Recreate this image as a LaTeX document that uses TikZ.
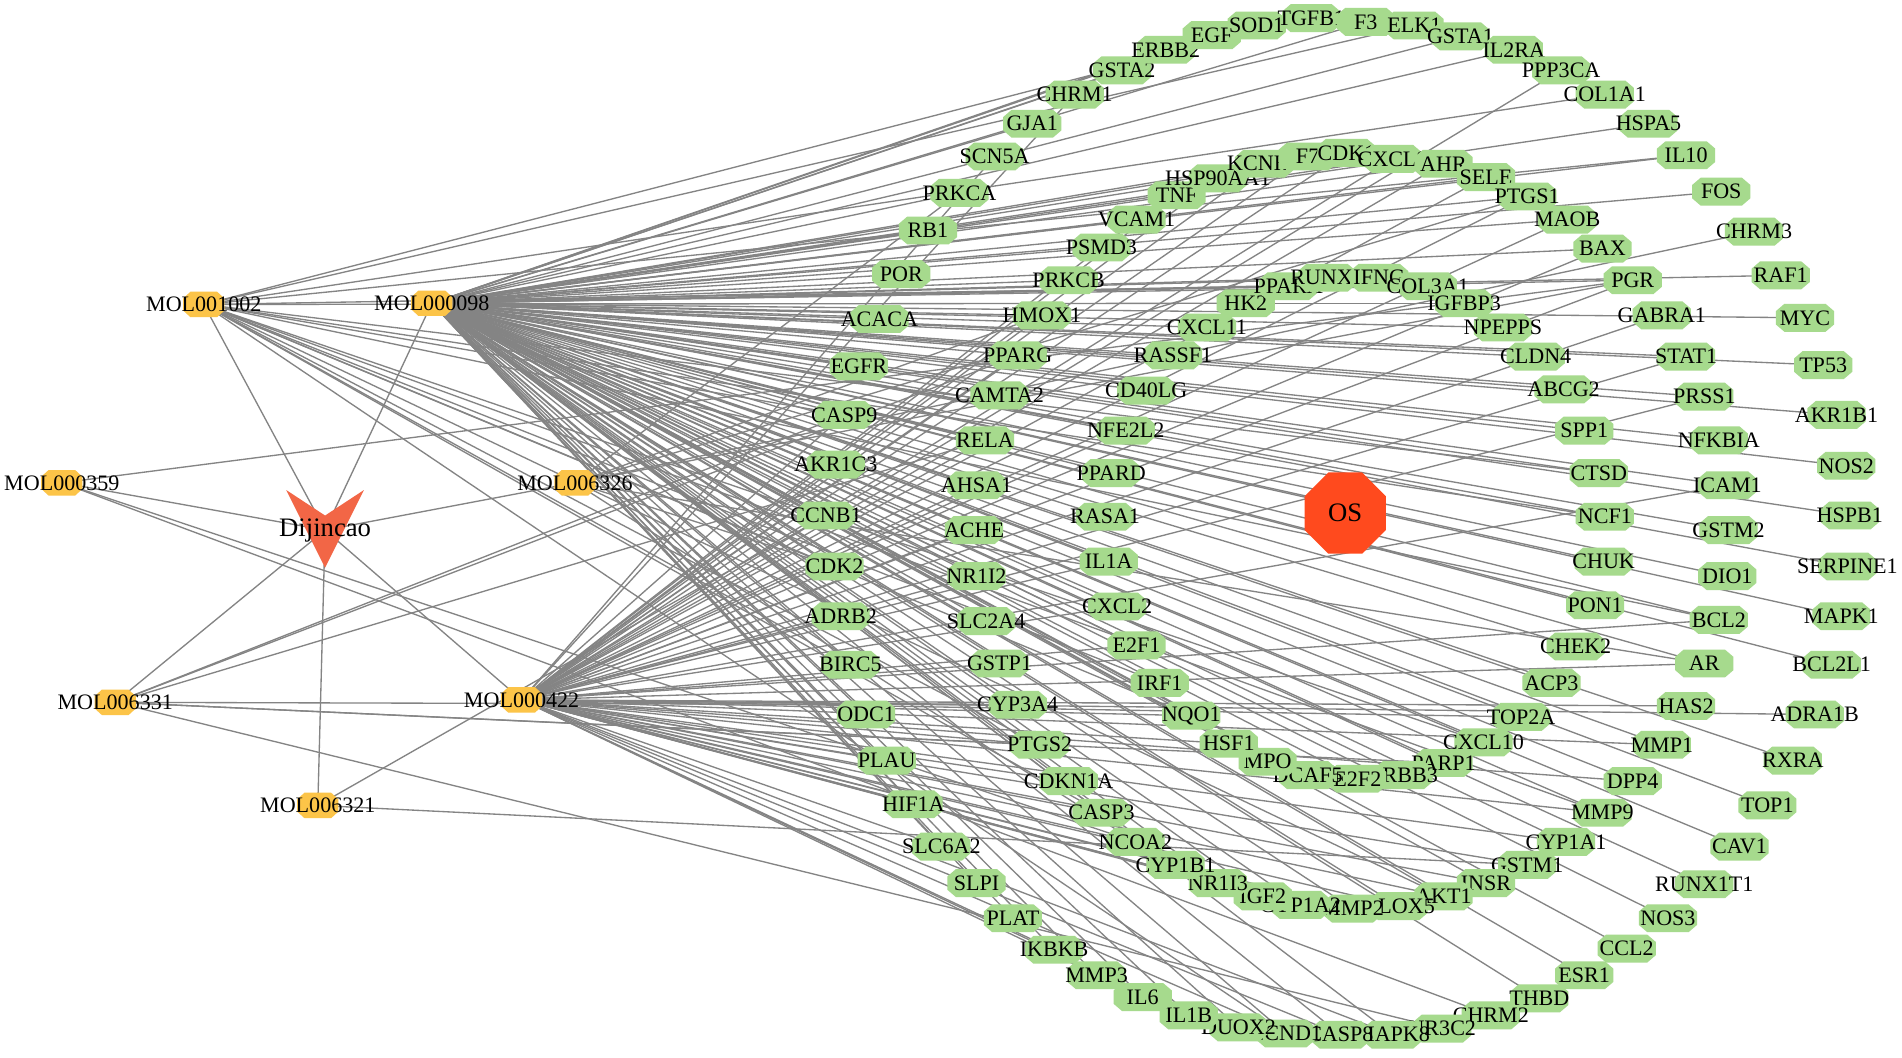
\documentclass[tikz,border=0pt]{standalone}
\usepackage{fontspec}
\setmainfont{Liberation Serif}
\pgfdeclarelayer{bg}
\pgfsetlayers{bg,main}
\definecolor{gcol}{RGB}{166,218,141}
\definecolor{ycol}{RGB}{252,196,72}
\definecolor{dcol}{RGB}{242,102,70}
\definecolor{ocol}{RGB}{255,74,30}
\definecolor{ecol}{RGB}{132,132,132}
\tikzset{
  lbl/.style={inner sep=0pt, font=\fontsize{18.2}{21}\selectfont, text=black},
  biglbl/.style={inner sep=0pt, font=\fontsize{22}{25}\selectfont, text=black},
  edge/.style={draw=ecol, line width=1.1pt},
}
% green target node: name, x, y
\newcommand\gnd[3]{%
  \coordinate (#1) at (#2,#3);
  \fill[gcol,shift={(#2,#3)}] (-24,-5.5) -- (-24,5.5) -- (-17,11.5) -- (17,11.5) -- (24,5.5) -- (24,-5.5) -- (17,-11.5) -- (-17,-11.5) -- cycle;
  \node[lbl] (#1-l) at (#1) {#1};}
% yellow compound node
\newcommand\ynd[3]{%
  \coordinate (#1) at (#2,#3);
  \fill[ycol,shift={(#2,#3)}] (-17,-5) -- (-17,5) -- (-11,10.5) -- (11,10.5) -- (17,5) -- (17,-5) -- (11,-10.5) -- (-11,-10.5) -- cycle;
  \node[lbl] (#1-l) at (#1) {#1};}
\begin{document}
\begin{tikzpicture}[x=1pt,y=-1pt]
\useasboundingbox (0,0) rectangle (1568,872);
\begin{pgfonlayer}{bg}
\fill[white] (0,0) rectangle (1568,872);
\end{pgfonlayer}

% compounds
\ynd{MOL001002}{168}{251}
\ynd{MOL000098}{356}{250}
\ynd{MOL000359}{51}{398}
\ynd{MOL006326}{474}{398}
\ynd{MOL006331}{95}{579}
\ynd{MOL000422}{430}{577}
\ynd{MOL006321}{262}{664}

% herb
\coordinate (Dij) at (268,437);
\fill[dcol] (236,404) -- (268,425) -- (300,404) -- (268,468) -- cycle;
\node[biglbl] (Dij-l) at (268,437) {Dijincao};

% disease
\coordinate (OS) at (1109,423);
\fill[ocol,shift={(1109,423)}] (-33.5,-13.9) -- (-33.5,13.9) -- (-13.9,33.5) -- (13.9,33.5) -- (33.5,13.9) -- (33.5,-13.9) -- (13.9,-33.5) -- (-13.9,-33.5) -- cycle;
\node[biglbl] (OS-l) at (OS) {OS};

% outer ring
\foreach \n/\x/\y in {CCNB1/681/425, AKR1C3/689/383, CASP9/696/342, EGFR/708/302, ACACA/725/263, POR/743/226, RB1/765/190, PRKCA/791/159, SCN5A/820/129, GJA1/851/102, CHRM1/886/78, GSTA2/925/58, ERBB2/961/41, EGF/999/29, SOD1/1036/21, TGFB1/1081/15, F3/1126/18, ELK1/1166/21, GSTA1/1204/30, IL2RA/1248/41, PPP3CA/1287/58, COL1A1/1323/78, HSPA5/1359/102, IL10/1390/128, FOS/1419/158, CHRM3/1446/191, RAF1/1468/227, MYC/1488/262, TP53/1503/301, AKR1B1/1514/342, NOS2/1522/384, HSPB1/1525/425, SERPINE1/1523/467, MAPK1/1518/508, BCL2L1/1510/548, ADRA1B/1496/589, RXRA/1478/627, TOP1/1457/664, CAV1/1434/698, RUNX1T1/1405/729, NOS3/1375/757, CCL2/1341/782, ESR1/1306/804, THBD/1269/823, CHRM2/1229/837, NR3C2/1189/848, MAPK8/1148/853, CASP8/1105/853, CCND1/1060/852, DUOX2/1021/847, IL1B/980/837, IL6/942/822, MMP3/904/804, IKBKB/869/783, PLAT/835/757, SLPI/805/728, SLC6A2/776/698, HIF1A/753/663, PLAU/731/627, ODC1/714/589, BIRC5/701/548, ADRB2/693/508, CDK2/688/467}
  {\gnd{\n}{\x}{\y}}

% middle ring
\foreach \n/\x/\y in {ACHE/803/437, AHSA1/805/400, RELA/812/363, CAMTA2/824/326, PPARG/839/293, HMOX1/859/260, PRKCB/881/231, PSMD3/908/204, VCAM1/937/181, TNF/970/161, HSP90AA1/1004/147, KCNH2/1042/135, F7/1078/129, CDK1/1110/126, CXCL8/1148/131, AHR/1190/135, SELE/1225/146, PTGS1/1259/162, MAOB/1292/181, BAX/1321/205, PGR/1346/231, GABRA1/1370/260, STAT1/1390/294, PRSS1/1405/327, NFKBIA/1417/363, ICAM1/1424/400, GSTM2/1425/437, DIO1/1424/475, BCL2/1417/511, AR/1405/547, HAS2/1390/582, MMP1/1370/614, DPP4/1346/644, MMP9/1321/670, CYP1A1/1291/694, GSTM1/1259/713, INSR/1225/728, AKT1/1190/739, ALOX5/1153/747, MMP2/1115/749, CYP1A2/1072/746, IGF2/1041/739, NR1I3/1004/728, CYP1B1/969/713, NCOA2/936/694, CASP3/908/670, CDKN1A/881/644, PTGS2/857/614, CYP3A4/839/581, GSTP1/824/547, SLC2A4/813/512, NR1I2/805/475}
  {\gnd{\n}{\x}{\y}}

% inner ring
\foreach \n/\x/\y in {RASA1/911/426, PPARD/916/390, NFE2L2/928/355, CD40LG/945/322, RASSF1/967/293, CXCL11/995/270, HK2/1027/250, PPARA/1062/236, RUNX2/1094/229, IFNG/1137/229, COL3A1/1177/236, IGFBP3/1207/250, NPEPPS/1239/270, CLDN4/1266/294, ABCG2/1289/321, SPP1/1306/355, CTSD/1318/390, NCF1/1323/426, CHUK/1322/463, PON1/1315/499, CHEK2/1299/533, ACP3/1279/563, TOP2A/1254/591, CXCL10/1223/612, PARP1/1190/629, ERBB3/1157/639, E2F2/1119/642, DCAF5/1078/639, MPO/1045/628, HSF1/1013/613, NQO1/982/590, IRF1/956/563, E2F1/937/532, CXCL2/921/500, IL1A/914/463}
  {\gnd{\n}{\x}{\y}}

\begin{pgfonlayer}{bg}
% herb to compounds
\foreach \m in {MOL001002,MOL000098,MOL000359,MOL006326,MOL006331,MOL000422,MOL006321}
  {\draw[edge] (Dij) -- (\m);}
% MOL000098
\foreach \t in {CCNB1, AKR1C3, CASP9, EGFR, ACACA, POR, RB1, PRKCA, GJA1, GSTA2, ERBB2, EGF, SOD1, F3, GSTA1, IL2RA, HSPA5, IL10, FOS, RAF1, MYC, TP53, AKR1B1, NOS2, HSPB1, SERPINE1, MAPK1, BCL2L1, RXRA, TOP1, CAV1, RUNX1T1, NOS3, CCL2, ESR1, THBD, MAPK8, CASP8, CCND1, DUOX2, IL1B, IL6, MMP3, IKBKB, PLAT, SLPI, SLC6A2, HIF1A, PLAU, ODC1, BIRC5, ADRB2, CDK2,
  ACHE, AHSA1, RELA, CAMTA2, PPARG, HMOX1, PRKCB, PSMD3, VCAM1, TNF, HSP90AA1, F7, CDK1, CXCL8, AHR, SELE, PTGS1, MAOB, BAX, PGR, STAT1, PRSS1, NFKBIA, ICAM1, GSTM2, DIO1, BCL2, AR, MMP1, DPP4, MMP9, CYP1A1, INSR, AKT1, ALOX5, MMP2, CYP1A2, IGF2, NR1I3, CYP1B1, CASP3, CDKN1A, PTGS2, CYP3A4, GSTP1, SLC2A4, NR1I2,
  RASA1, PPARD, NFE2L2, CD40LG, RASSF1, CXCL11, HK2, PPARA, RUNX2, IFNG, COL3A1, IGFBP3, NPEPPS, CLDN4, ABCG2, SPP1, CTSD, NCF1, CHUK, PON1, CHEK2, ACP3, TOP2A, CXCL10, PARP1, ERBB3, E2F2, DCAF5, MPO, HSF1, NQO1, IRF1, E2F1, CXCL2, IL1A}
  {\draw[edge] (MOL000098) -- (\t);}
% MOL000422
\foreach \t in {PGR, NCOA2, PTGS1, PTGS2, AR, SCN5A, KCNH2, CHRM1, ADRB2, F7, PRSS1, CDK1, AKT1, BCL2, BAX, TNF, CASP3, CASP9, CASP8, RELA, IKBKB, MMP1, MMP2, MMP9, MAPK8, CYP3A4, CYP1A1, CYP1A2, CYP1B1, ALOX5, GSTP1, HMOX1, PPARG, ICAM1, VCAM1, SELE, IL1B, CXCL2, NR1I2, NR1I3, INSR, GABRA1, ACHE, SLC6A2, AHSA1, HSP90AA1, PLAU, NFE2L2, IL6, STAT1, ADRA1B, HAS2, TOP2A, DPP4, AHR, CXCL8, MAOB, PPP3CA, IGF2, CCND1, GSTM1, HIF1A, IL1A, CDKN1A, NQO1, HSF1, E2F1}
  {\draw[edge] (MOL000422) -- (\t);}
% MOL001002
\foreach \t in {TGFB1, ELK1, COL1A1, IL10, HK2, PPARA, CTSD, NCF1, BCL2, CASP9, CDK2, BIRC5, PTGS2, NQO1, CXCL10, MMP9, CCND1, AKT1, CASP3, IRF1}
  {\draw[edge] (MOL001002) -- (\t);}
% MOL006326
\foreach \t in {CHRM3, PGR, PTGS1, AR, NCOA2, PRKCA, HMOX1, CDK2}
  {\draw[edge] (MOL006326) -- (\t);}
% MOL000359
\foreach \t in {PGR, NCOA2, CHRM2}
  {\draw[edge] (MOL000359) -- (\t);}
% MOL006331
\foreach \t in {PPARG, RELA, CASP9, CYP3A4, PTGS2, PARP1, NR3C2}
  {\draw[edge] (MOL006331) -- (\t);}
% MOL006321
\foreach \t in {CCNB1, GSTM1}
  {\draw[edge] (MOL006321) -- (\t);}
\end{pgfonlayer}
\end{tikzpicture}
\end{document}
